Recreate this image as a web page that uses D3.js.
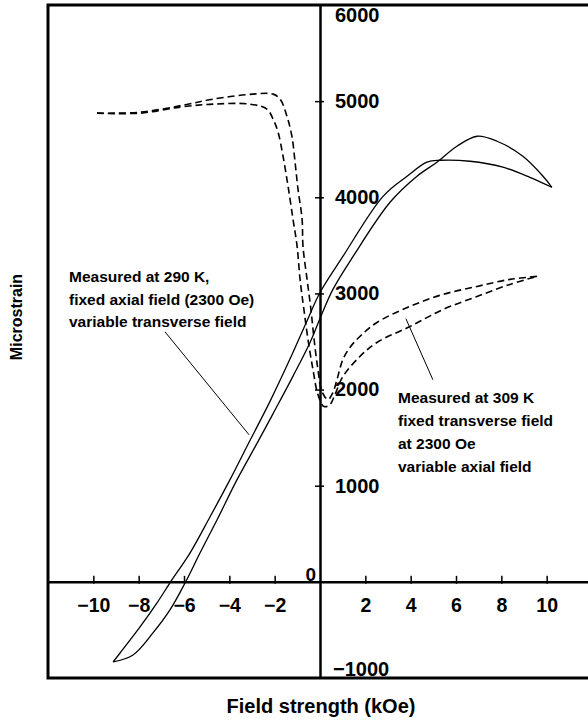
<!DOCTYPE html>
<html>
<head>
<meta charset="utf-8">
<script src="https://cdn.jsdelivr.net/npm/d3@7"></script>
<style>
  body { margin: 0; background: #fff; }
  svg text { font-family: "Liberation Sans", Arial, sans-serif; font-weight: bold; fill: #000; }
</style>
</head>
<body>
<svg id="chart" width="588" height="724"></svg>
<script>
// tick values
const fieldTicks = [-10, -8, -6, -4, -2, 2, 4, 6, 8, 10];
const strainTicks = [1000, 2000, 3000, 4000, 5000];

// 290 K loop (solid): field (kOe), microstrain
const upper290Field  = [-9.13, -8.82, -7.94, -7.19, -6.62, -5.73, -4.85, -3.97, -3.09, -2.2, -1.3, -0.6, 0, 1.01, 2.78, 3.84, 4.72, 5.29, 6.62, 8.07, 9.26, 10.23];
const upper290Strain = [-833, -740, -469, -219, -10, 302, 677, 1063, 1470, 1880, 2330, 2700, 3010, 3385, 4010, 4219, 4365, 4385, 4375, 4313, 4208, 4104];
const lower290Field  = [-9.13, -8.25, -7.37, -6.62, -5.95, -5.29, -4.54, -3.66, -2.78, -2.07, -1.19, -0.44, 0, 0.57, 1.46, 3.09, 4.28, 5.16, 6.04, 6.93, 7.81, 8.95, 9.84, 10.23];
const lower290Strain = [-833, -760, -531, -292, -10, 302, 646, 1063, 1440, 1750, 2140, 2490, 2740, 3042, 3385, 3948, 4219, 4365, 4531, 4635, 4583, 4427, 4219, 4104];

// 309 K loop (dashed)
const outer309Field  = [-9.84, -7.94, -6.04, -4.72, -2.96, -2.07, -1.76, -1.46, -1.24, -1.10, -0.97, -0.79, -0.75, -0.57, -0.40, -0.26, -0.09, 0.09, 0.35, 0.57, 0.75, 1.01, 1.32, 1.76, 2.51, 3.97, 5.43, 6.93, 8.38, 9.57];
const outer309Strain = [4875, 4885, 4958, 5021, 5073, 5073, 5021, 4844, 4635, 4365, 4083, 3771, 3490, 3146, 2833, 2521, 2208, 1979, 1896, 1969, 2104, 2313, 2438, 2552, 2698, 2865, 2990, 3073, 3146, 3177];
const inner309Field  = [-9.84, -7.94, -6.18, -4.72, -3.09, -2.34, -2.07, -1.85, -1.63, -1.41, -1.19, -1.01, -0.88, -0.71, -0.53, -0.31, -0.09, 0.18, 0.44, 0.66, 1.01, 1.76, 2.51, 3.97, 5.43, 6.93, 8.38, 9.57];
const inner309Strain = [4875, 4875, 4938, 4969, 4969, 4917, 4813, 4677, 4427, 4115, 3771, 3490, 3146, 2833, 2521, 2208, 1948, 1823, 1844, 1948, 2135, 2344, 2490, 2656, 2833, 2969, 3094, 3177];

const note290 = ["Measured at 290 K,", "fixed axial field (2300 Oe)", "variable transverse field"];
const note309 = ["Measured at 309 K", "fixed transverse field", "at 2300 Oe", "variable axial field"];

const svg = d3.select("#chart");
const x = d3.scaleLinear().domain([-12, 12]).range([48, 592]);
const y = d3.scaleLinear().domain([-1000, 6000]).range([678, 5]);

// frame (open on the right, runs off the page)
svg.append("path")
    .attr("d", `M${x(12) + 10},${y(6000)} H${x(-12)} V${y(-1000)} H${x(12) + 10}`)
    .attr("fill", "none")
    .attr("stroke", "#000")
    .attr("stroke-width", 3);

// x axis through zero
const xAxis = svg.append("g")
    .attr("transform", `translate(0,${y(0)})`)
    .call(d3.axisBottom(x).tickValues(fieldTicks).tickSize(-6).tickSizeOuter(0).tickPadding(16));
xAxis.select(".domain").attr("stroke-width", 2.5);
xAxis.selectAll(".tick line").attr("y2", -6).attr("y1", 2).attr("stroke-width", 1.5);
xAxis.selectAll(".tick text").style("font-size", "19.5px").attr("font-family", null);

// y axis through zero
const yAxis = svg.append("g")
    .attr("transform", `translate(${x(0)},0)`)
    .call(d3.axisRight(y).tickValues(strainTicks).tickFormat(d3.format("d")).tickSize(4).tickSizeOuter(0).tickPadding(11));
yAxis.select(".domain").attr("stroke-width", 2.5);
yAxis.selectAll(".tick line").attr("x1", -5).attr("stroke-width", 1.5);
yAxis.selectAll(".tick text").style("font-size", "20px").attr("font-family", null);

// end labels of the y axis
svg.append("text").attr("x", x(0) + 15).attr("y", y(6000) + 17).style("font-size", "20px").text("6000");
svg.append("text").attr("x", x(0) + 13).attr("y", y(-1000) - 2).style("font-size", "20px").text("\u22121000");
svg.append("text").attr("x", x(0) - 4).attr("y", y(0) - 1).attr("text-anchor", "end").style("font-size", "19px").text("0");

// curves
const line = d3.line()
    .x(d => x(d[0]))
    .y(d => y(d[1]))
    .curve(d3.curveCatmullRom.alpha(0.5));

const zipped = (fx, fy) => fx.map((v, i) => [v, fy[i]]);

[[upper290Field, upper290Strain], [lower290Field, lower290Strain]].forEach(([fx, fy]) => {
    svg.append("path")
        .attr("d", line(zipped(fx, fy)))
        .attr("fill", "none")
        .attr("stroke", "#000")
        .attr("stroke-width", 1.3);
});

[[outer309Field, outer309Strain], [inner309Field, inner309Strain]].forEach(([fx, fy]) => {
    svg.append("path")
        .attr("d", line(zipped(fx, fy)))
        .attr("fill", "none")
        .attr("stroke", "#000")
        .attr("stroke-width", 1.6)
        .attr("stroke-dasharray", "7,4");
});

// annotations and leader lines
note290.forEach((t, i) => svg.append("text").attr("x", 69).attr("y", 282 + i * 22.5).style("font-size", "15.5px").text(t));
note309.forEach((t, i) => svg.append("text").attr("x", 398).attr("y", 403 + i * 23).style("font-size", "15.5px").text(t));

svg.append("line")
    .attr("x1", x(-6.84)).attr("y1", y(2601))
    .attr("x2", x(-3.13)).attr("y2", y(1530))
    .attr("stroke", "#000").attr("stroke-width", 1);
svg.append("line")
    .attr("x1", x(3.79)).attr("y1", y(2737))
    .attr("x2", x(4.98)).attr("y2", y(2102))
    .attr("stroke", "#000").attr("stroke-width", 1);

// axis titles
svg.append("text")
    .attr("transform", "translate(22,317) rotate(-90)")
    .attr("text-anchor", "middle")
    .style("font-size", "16px")
    .text("Microstrain");
svg.append("text")
    .attr("x", 321).attr("y", 713)
    .attr("text-anchor", "middle")
    .style("font-size", "20px")
    .text("Field strength (kOe)");
</script>
</body>
</html>
